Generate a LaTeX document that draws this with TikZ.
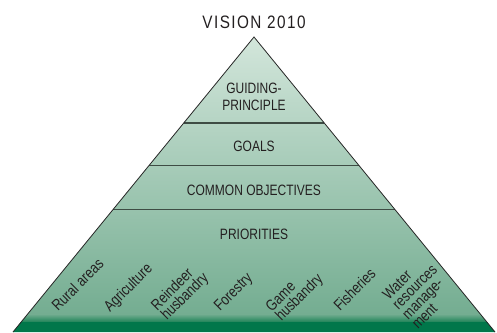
\documentclass[tikz,border=0pt]{standalone}
\usepackage{fontspec}
\setmainfont{Liberation Sans}
\newfontfamily\condfont[FakeStretch=0.8]{Liberation Sans}
\newfontfamily\titlefont[FakeStretch=0.85,LetterSpace=8]{Liberation Sans}
\newfontfamily\sectfont[FakeStretch=0.82]{Liberation Sans}
\usetikzlibrary{calc}
\definecolor{txt}{HTML}{231F20}
\definecolor{pyrtop}{HTML}{D3E6DB}
\definecolor{pyrmid}{HTML}{74AD91}
\definecolor{pyrband}{HTML}{1E8458}
\definecolor{pyrdark}{HTML}{00774A}
\definecolor{divcol}{HTML}{3E4C44}
\tikzset{
  titlestyle/.style={inner sep=0pt, text=txt, font=\titlefont\fontsize{18}{20}\selectfont},
  lvl/.style={inner sep=0pt, text=txt, align=center, font=\condfont\fontsize{15}{17}\selectfont},
  sect/.style={rotate=45, anchor=base west, align=left, inner sep=0pt, text=txt, font=\sectfont\fontsize{15.5}{13.8}\selectfont},
  divider/.style={draw=divcol, line width=1.3pt},
  outline/.style={draw=black!85, line width=0.8pt, line join=miter}
}
\begin{document}
\begin{tikzpicture}[x=1pt,y=1pt]
\useasboundingbox (0,0) rectangle (497,332);
\coordinate (apex) at (254,295);
\coordinate (bl) at (13,0);
\coordinate (br) at (495,0);
\begin{scope}
  \clip (apex) -- (bl) -- (br) -- cycle;
  \shade[top color=pyrtop, bottom color=pyrmid] (0,296) rectangle (497,18);
  \shade[top color=pyrmid, bottom color=pyrband] (0,18) rectangle (497,10);
  \fill[pyrdark] (0,10) rectangle (497,-1);
\end{scope}
\coordinate (d1l) at ($(apex)!0.2915!(bl)$);
\coordinate (d1r) at ($(apex)!0.2915!(br)$);
\coordinate (d2l) at ($(apex)!0.4356!(bl)$);
\coordinate (d2r) at ($(apex)!0.4356!(br)$);
\coordinate (d3l) at ($(apex)!0.5847!(bl)$);
\coordinate (d3r) at ($(apex)!0.5847!(br)$);
\draw[divider] (d1l) -- (d1r);
\draw[divider] (d2l) -- (d2r);
\draw[divider] (d3l) -- (d3r);
\draw[outline] (bl) -- (apex) -- (br);

\node[titlestyle, anchor=base] (vision) at (254,303.7) {VISION 2010};
\node[lvl] (guiding) at (254,235) {GUIDING-\\PRINCIPLE};
\node[lvl] (goals) at (254,185.8) {GOALS};
\node[lvl] (common) at (254,141.5) {COMMON OBJECTIVES};
\node[lvl] (prio) at (254,97.5) {PRIORITIES};

% multi-line labels: base anchor sits on the last line
\node[sect] (rural) at (58,20) {Rural areas};
\node[sect] (agri) at (110,19) {Agriculture};
\node[sect] (rein) at (167,11) {Reindeer\\husbandry};
\node[sect] (forest) at (220,20) {Forestry};
\node[sect] (game) at (281.6,10) {Game\\husbandry};
\node[sect] (fish) at (340,20) {Fisheries};
\node[sect] (water) at (418,2) {Water\\resources\\manage-\\ment};
\end{tikzpicture}
\end{document}
